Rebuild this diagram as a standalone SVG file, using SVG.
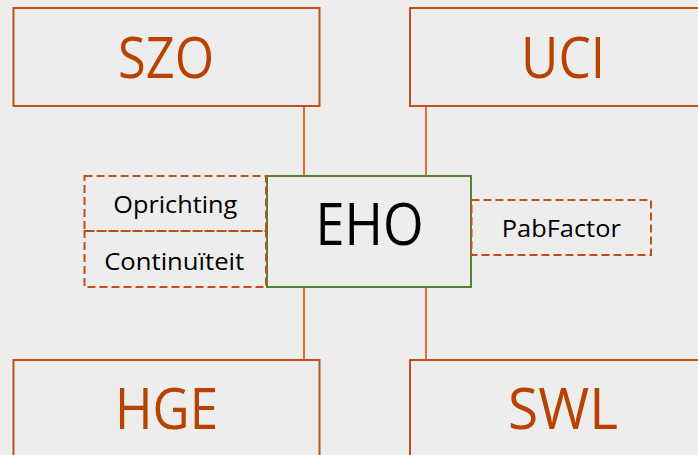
<svg xmlns="http://www.w3.org/2000/svg" width="698" height="455" viewBox="0 0 698 455">
<style>
.bg{fill:#EDEDED}
.big{fill:none;stroke:#C0501A;stroke-width:2}
.bigt{font-family:"Open Sans","Noto Sans",sans-serif;font-size:56px;fill:#B84300;text-anchor:middle}
.eho{fill:none;stroke:#548235;stroke-width:2}
.ehot{font-family:"Open Sans","Noto Sans",sans-serif;font-size:58px;fill:#000;text-anchor:middle}
.dash{fill:none;stroke:#C0501A;stroke-width:2;stroke-dasharray:8,4}
.smt{font-family:"Open Sans","Noto Sans",sans-serif;font-size:24px;fill:#000;text-anchor:middle}
.con{stroke:#ED6A2A;stroke-width:2;fill:none}
</style>
<rect class="bg" x="0" y="0" width="698" height="455"/>
<g id="connectors">
<line class="con" x1="304" y1="106" x2="304" y2="176"/>
<line class="con" x1="426" y1="106" x2="426" y2="176"/>
<line class="con" x1="304" y1="287" x2="304" y2="360"/>
<line class="con" x1="426" y1="287" x2="426" y2="360"/>
</g>
<g id="SZO">
<rect class="big" x="13.5" y="8" width="306" height="98"/>
<text class="bigt" x="166" y="78" textLength="96" lengthAdjust="spacingAndGlyphs">SZO</text>
</g>
<g id="UCI">
<rect class="big" x="410" y="8" width="310" height="98"/>
<text class="bigt" x="563" y="78" textLength="84" lengthAdjust="spacingAndGlyphs">UCI</text>
</g>
<g id="HGE">
<rect class="big" x="13.5" y="360" width="306" height="110"/>
<text class="bigt" x="166.5" y="429" textLength="103" lengthAdjust="spacingAndGlyphs">HGE</text>
</g>
<g id="SWL">
<rect class="big" x="410" y="360" width="310" height="110"/>
<text class="bigt" x="563" y="429" textLength="110" lengthAdjust="spacingAndGlyphs">SWL</text>
</g>
<g id="EHO">
<rect class="eho" x="267" y="176" width="204" height="111"/>
<text class="ehot" x="369.5" y="245" textLength="108" lengthAdjust="spacingAndGlyphs">EHO</text>
</g>
<g id="Oprichting">
<rect class="dash" x="84.5" y="176" width="181.5" height="55"/>
<text class="smt" x="175.3" y="213" textLength="124" lengthAdjust="spacingAndGlyphs">Oprichting</text>
</g>
<g id="Continuiteit">
<rect class="dash" x="84.5" y="231" width="181.5" height="56"/>
<text class="smt" x="174.2" y="270" textLength="140" lengthAdjust="spacingAndGlyphs">Continuïteit</text>
</g>
<g id="PabFactor">
<rect class="dash" x="471.5" y="200" width="179.5" height="55"/>
<text class="smt" x="561.3" y="237" textLength="119" lengthAdjust="spacingAndGlyphs">PabFactor</text>
</g>
</svg>
